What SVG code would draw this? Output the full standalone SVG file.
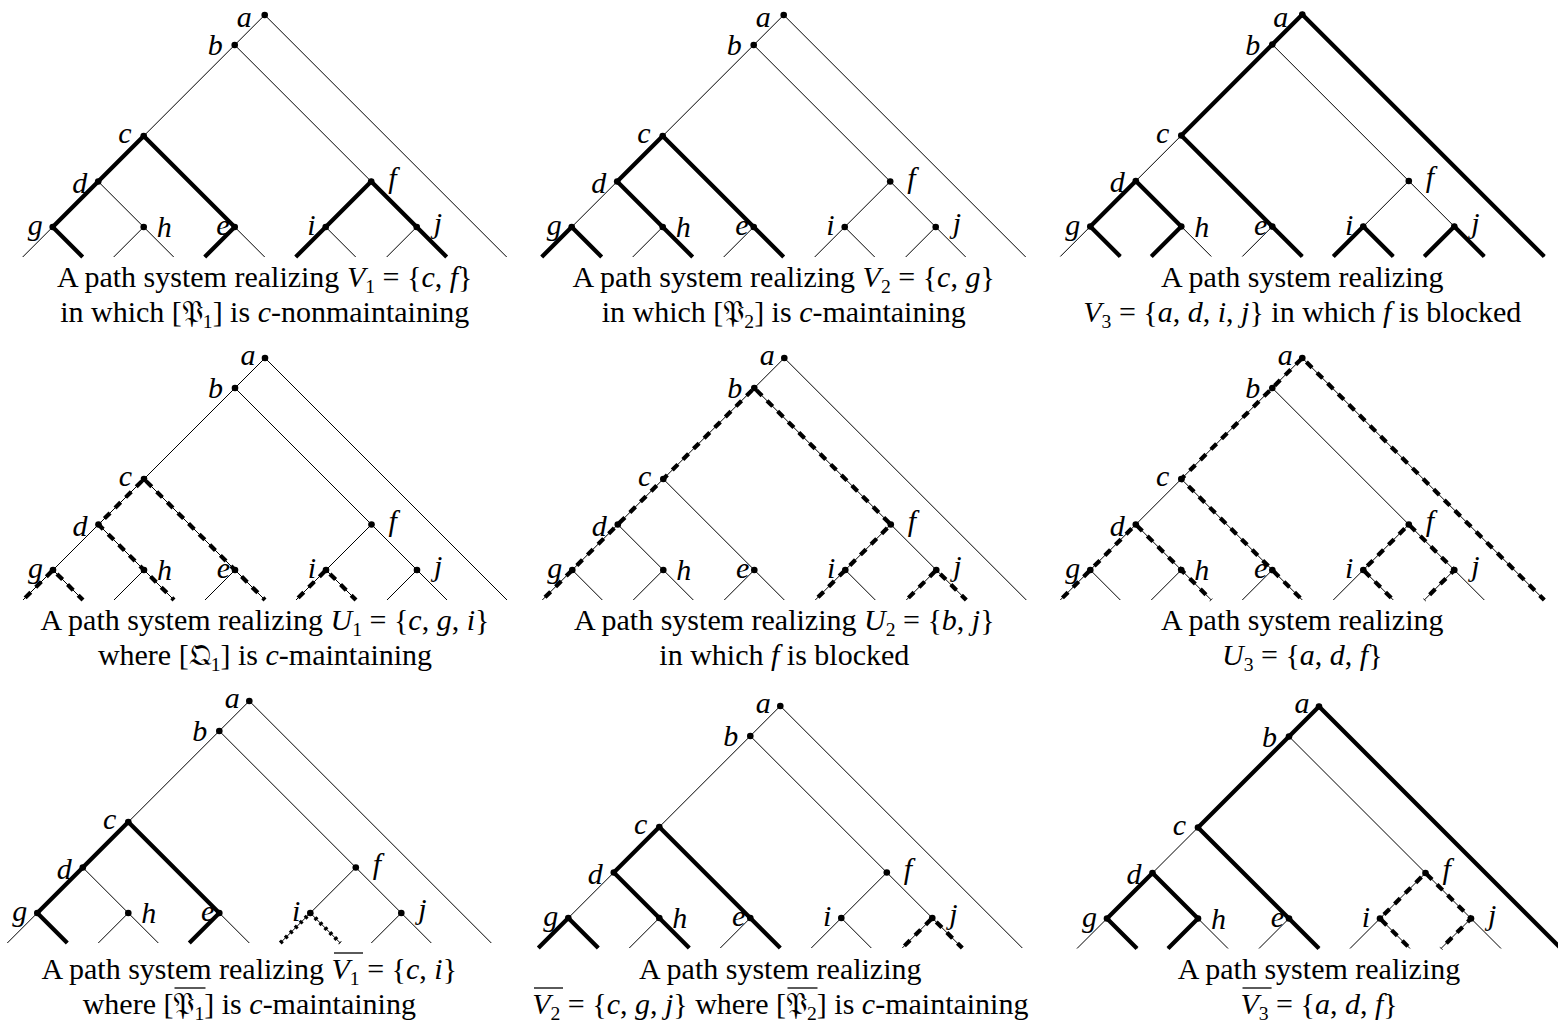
<svg xmlns="http://www.w3.org/2000/svg" xmlns:xlink="http://www.w3.org/1999/xlink" width="1558" height="1026" viewBox="0 0 1558 1026">
<style>
.thin{fill:none;stroke:#000;stroke-width:1}
.thick{fill:none;stroke:#000;stroke-width:4.2;stroke-linejoin:miter}
.dash{fill:none;stroke:#000;stroke-width:4.2;stroke-dasharray:8 7;stroke-dashoffset:-3}
.dot{fill:none;stroke:#000;stroke-width:4;stroke-dasharray:3 4}
.node circle{fill:#000}
.lbl{font-family:"Liberation Serif","DejaVu Serif",serif;font-style:italic;font-size:30px}
.end{text-anchor:end}
.cap{font-family:"Liberation Serif","DejaVu Serif",serif;font-size:30px;text-anchor:middle}
.it{font-style:italic}
.sub{font-size:19.7px}
.frak{font-family:"DejaVu Serif","DejaVu Sans","Noto Sans","Liberation Serif",serif}
.ov{stroke:#000;stroke-width:1.3}
</style>
<defs>
<path id="base" class="thin" d="M0,0L242,242M0,0L-242,242M-30,30L182,242M-121,121L0,242M-166.5,166.5L-91,242M-212,212L-182,242M-121,212L-151,242M-30,212L-60,242M106.5,166.5L31,242M61,212L91,242M152,212L122,242"/>
</defs>

<!-- Panel 1 -->
<g id="panel1" transform="translate(264.7,15)">
<g id="p1-edges"><use xlink:href="#base" href="#base"/>
<path class="thick" d="M-182,242L-212,212L-121,121L-30,212L-60,242"/>
<path class="thick" d="M31,242L106.5,166.5L182,242"/></g>
<g id="p1-a" class="node"><circle r="3.3"/><text class="lbl end" x="-13" y="12">a</text></g>
<g id="p1-b" class="node"><circle cx="-30" cy="30" r="3.3"/><text class="lbl end" x="-42" y="40">b</text></g>
<g id="p1-c" class="node"><circle cx="-121" cy="121" r="3.3"/><text class="lbl end" x="-133" y="128">c</text></g>
<g id="p1-d" class="node"><circle cx="-166.5" cy="166.5" r="3.3"/><text class="lbl end" x="-177.5" y="177.5">d</text></g>
<g id="p1-g" class="node"><circle cx="-212" cy="212" r="3.3"/><text class="lbl end" x="-222" y="220">g</text></g>
<g id="p1-h" class="node"><circle cx="-121" cy="212" r="3.3"/><text class="lbl" x="-108" y="222">h</text></g>
<g id="p1-e" class="node"><circle cx="-30" cy="212" r="3.3"/><text class="lbl end" x="-35" y="220">e</text></g>
<g id="p1-f" class="node"><circle cx="106.5" cy="166.5" r="3.3"/><text class="lbl" x="123.5" y="172.5">f</text></g>
<g id="p1-i" class="node"><circle cx="61" cy="212" r="3.3"/><text class="lbl end" x="51" y="220">i</text></g>
<g id="p1-j" class="node"><circle cx="152" cy="212" r="3.3"/><text class="lbl" x="169" y="218">j</text></g>
</g>
<g id="caption1">
<text class="cap" x="264.7" y="287">A path system realizing <tspan class="it">V</tspan><tspan class="sub" dy="6.2">1</tspan><tspan dy="-6.2"> = {</tspan><tspan class="it">c</tspan>, <tspan class="it">f</tspan>}</text>
<text class="cap" x="264.7" y="322">in which [<tspan class="frak">𝔓</tspan><tspan class="sub" dy="6.2">1</tspan><tspan dy="-6.2">] is </tspan><tspan class="it">c</tspan>-nonmaintaining</text>
</g>

<!-- Panel 2 -->
<g id="panel2" transform="translate(783.7,15)">
<g id="p2-edges"><use xlink:href="#base" href="#base"/>
<path class="thick" d="M-91,242L-166.5,166.5L-121,121L0,242"/>
<path class="thick" d="M-242,242L-212,212L-182,242"/></g>
<g id="p2-a" class="node"><circle r="3.3"/><text class="lbl end" x="-13" y="12">a</text></g>
<g id="p2-b" class="node"><circle cx="-30" cy="30" r="3.3"/><text class="lbl end" x="-42" y="40">b</text></g>
<g id="p2-c" class="node"><circle cx="-121" cy="121" r="3.3"/><text class="lbl end" x="-133" y="128">c</text></g>
<g id="p2-d" class="node"><circle cx="-166.5" cy="166.5" r="3.3"/><text class="lbl end" x="-177.5" y="177.5">d</text></g>
<g id="p2-g" class="node"><circle cx="-212" cy="212" r="3.3"/><text class="lbl end" x="-222" y="220">g</text></g>
<g id="p2-h" class="node"><circle cx="-121" cy="212" r="3.3"/><text class="lbl" x="-108" y="222">h</text></g>
<g id="p2-e" class="node"><circle cx="-30" cy="212" r="3.3"/><text class="lbl end" x="-35" y="220">e</text></g>
<g id="p2-f" class="node"><circle cx="106.5" cy="166.5" r="3.3"/><text class="lbl" x="123.5" y="172.5">f</text></g>
<g id="p2-i" class="node"><circle cx="61" cy="212" r="3.3"/><text class="lbl end" x="51" y="220">i</text></g>
<g id="p2-j" class="node"><circle cx="152" cy="212" r="3.3"/><text class="lbl" x="169" y="218">j</text></g>
</g>
<g id="caption2">
<text class="cap" x="783.7" y="287">A path system realizing <tspan class="it">V</tspan><tspan class="sub" dy="6.2">2</tspan><tspan dy="-6.2"> = {</tspan><tspan class="it">c</tspan>, <tspan class="it">g</tspan>}</text>
<text class="cap" x="783.7" y="322">in which [<tspan class="frak">𝔓</tspan><tspan class="sub" dy="6.2">2</tspan><tspan dy="-6.2">] is </tspan><tspan class="it">c</tspan>-maintaining</text>
</g>

<!-- Panel 3 -->
<g id="panel3" transform="translate(1302.3,14.5)">
<g id="p3-edges"><use xlink:href="#base" href="#base"/>
<path class="thick" d="M0,242L-121,121L0,0L242,242"/>
<path class="thick" d="M-182,242L-212,212L-166.5,166.5L-121,212L-151,242"/>
<path class="thick" d="M31,242L61,212L91,242"/>
<path class="thick" d="M122,242L152,212L182,242"/></g>
<g id="p3-a" class="node"><circle r="3.3"/><text class="lbl end" x="-14" y="12.5">a</text></g>
<g id="p3-b" class="node"><circle cx="-30" cy="30" r="3.3"/><text class="lbl end" x="-42" y="40">b</text></g>
<g id="p3-c" class="node"><circle cx="-121" cy="121" r="3.3"/><text class="lbl end" x="-133" y="128">c</text></g>
<g id="p3-d" class="node"><circle cx="-166.5" cy="166.5" r="3.3"/><text class="lbl end" x="-177.5" y="177.5">d</text></g>
<g id="p3-g" class="node"><circle cx="-212" cy="212" r="3.3"/><text class="lbl end" x="-222" y="220">g</text></g>
<g id="p3-h" class="node"><circle cx="-121" cy="212" r="3.3"/><text class="lbl" x="-108" y="222">h</text></g>
<g id="p3-e" class="node"><circle cx="-30" cy="212" r="3.3"/><text class="lbl end" x="-35" y="220">e</text></g>
<g id="p3-f" class="node"><circle cx="106.5" cy="166.5" r="3.3"/><text class="lbl" x="123.5" y="172.5">f</text></g>
<g id="p3-i" class="node"><circle cx="61" cy="212" r="3.3"/><text class="lbl end" x="51" y="220">i</text></g>
<g id="p3-j" class="node"><circle cx="152" cy="212" r="3.3"/><text class="lbl" x="169" y="218">j</text></g>
</g>
<g id="caption3">
<text class="cap" x="1302.3" y="287">A path system realizing</text>
<text class="cap" x="1302.3" y="322"><tspan class="it">V</tspan><tspan class="sub" dy="6.2">3</tspan><tspan dy="-6.2"> = {</tspan><tspan class="it">a</tspan>, <tspan class="it">d</tspan>, <tspan class="it">i</tspan>, <tspan class="it">j</tspan>} in which <tspan class="it">f</tspan> is blocked</text>
</g>

<!-- Panel 4 -->
<g id="panel4" transform="translate(265,358)">
<g id="p4-edges"><use xlink:href="#base" href="#base"/>
<path class="dash" d="M-121,121L-166.5,166.5L-91,242"/>
<path class="dash" d="M-121,121L0,242"/>
<path class="dash" d="M-242,242L-212,212L-182,242"/>
<path class="dash" d="M31,242L61,212L91,242"/></g>
<g id="p4-a" class="node"><circle r="3.3"/><text class="lbl end" x="-9.5" y="6.5">a</text></g>
<g id="p4-b" class="node"><circle cx="-30" cy="30" r="3.3"/><text class="lbl end" x="-42" y="40">b</text></g>
<g id="p4-c" class="node"><circle cx="-121" cy="121" r="3.3"/><text class="lbl end" x="-133" y="128">c</text></g>
<g id="p4-d" class="node"><circle cx="-166.5" cy="166.5" r="3.3"/><text class="lbl end" x="-177.5" y="177.5">d</text></g>
<g id="p4-g" class="node"><circle cx="-212" cy="212" r="3.3"/><text class="lbl end" x="-222" y="220">g</text></g>
<g id="p4-h" class="node"><circle cx="-121" cy="212" r="3.3"/><text class="lbl" x="-108" y="222">h</text></g>
<g id="p4-e" class="node"><circle cx="-30" cy="212" r="3.3"/><text class="lbl end" x="-35" y="220">e</text></g>
<g id="p4-f" class="node"><circle cx="106.5" cy="166.5" r="3.3"/><text class="lbl" x="123.5" y="172.5">f</text></g>
<g id="p4-i" class="node"><circle cx="61" cy="212" r="3.3"/><text class="lbl end" x="51" y="220">i</text></g>
<g id="p4-j" class="node"><circle cx="152" cy="212" r="3.3"/><text class="lbl" x="169" y="218">j</text></g>
</g>
<g id="caption4">
<text class="cap" x="265" y="629.5">A path system realizing <tspan class="it">U</tspan><tspan class="sub" dy="6.2">1</tspan><tspan dy="-6.2"> = {</tspan><tspan class="it">c</tspan>, <tspan class="it">g</tspan>, <tspan class="it">i</tspan>}</text>
<text class="cap" x="265" y="665">where [<tspan class="frak">𝔔</tspan><tspan class="sub" dy="6.2">1</tspan><tspan dy="-6.2">] is </tspan><tspan class="it">c</tspan>-maintaining</text>
</g>

<!-- Panel 5 -->
<g id="panel5" transform="translate(784.3,358)">
<g id="p5-edges"><use xlink:href="#base" href="#base"/>
<path class="dash" d="M-30,30L-242,242"/>
<path class="dash" d="M-30,30L106.5,166.5L31,242"/>
<path class="dash" d="M122,242L152,212L182,242"/></g>
<g id="p5-a" class="node"><circle r="3.3"/><text class="lbl end" x="-9.5" y="6.5">a</text></g>
<g id="p5-b" class="node"><circle cx="-30" cy="30" r="3.3"/><text class="lbl end" x="-42" y="40">b</text></g>
<g id="p5-c" class="node"><circle cx="-121" cy="121" r="3.3"/><text class="lbl end" x="-133" y="128">c</text></g>
<g id="p5-d" class="node"><circle cx="-166.5" cy="166.5" r="3.3"/><text class="lbl end" x="-177.5" y="177.5">d</text></g>
<g id="p5-g" class="node"><circle cx="-212" cy="212" r="3.3"/><text class="lbl end" x="-222" y="220">g</text></g>
<g id="p5-h" class="node"><circle cx="-121" cy="212" r="3.3"/><text class="lbl" x="-108" y="222">h</text></g>
<g id="p5-e" class="node"><circle cx="-30" cy="212" r="3.3"/><text class="lbl end" x="-35" y="220">e</text></g>
<g id="p5-f" class="node"><circle cx="106.5" cy="166.5" r="3.3"/><text class="lbl" x="123.5" y="172.5">f</text></g>
<g id="p5-i" class="node"><circle cx="61" cy="212" r="3.3"/><text class="lbl end" x="51" y="220">i</text></g>
<g id="p5-j" class="node"><circle cx="152" cy="212" r="3.3"/><text class="lbl" x="169" y="218">j</text></g>
</g>
<g id="caption5">
<text class="cap" x="784.3" y="629.5">A path system realizing <tspan class="it">U</tspan><tspan class="sub" dy="6.2">2</tspan><tspan dy="-6.2"> = {</tspan><tspan class="it">b</tspan>, <tspan class="it">j</tspan>}</text>
<text class="cap" x="784.3" y="665">in which <tspan class="it">f</tspan> is blocked</text>
</g>

<!-- Panel 6 -->
<g id="panel6" transform="translate(1302.3,358)">
<g id="p6-edges"><use xlink:href="#base" href="#base"/>
<path class="dash" d="M0,242L-121,121L0,0L242,242"/>
<path class="dash" d="M-242,242L-166.5,166.5L-91,242"/>
<path class="dash" d="M91,242L61,212L106.5,166.5L152,212L122,242"/></g>
<g id="p6-a" class="node"><circle r="3.3"/><text class="lbl end" x="-9.5" y="6.5">a</text></g>
<g id="p6-b" class="node"><circle cx="-30" cy="30" r="3.3"/><text class="lbl end" x="-42" y="40">b</text></g>
<g id="p6-c" class="node"><circle cx="-121" cy="121" r="3.3"/><text class="lbl end" x="-133" y="128">c</text></g>
<g id="p6-d" class="node"><circle cx="-166.5" cy="166.5" r="3.3"/><text class="lbl end" x="-177.5" y="177.5">d</text></g>
<g id="p6-g" class="node"><circle cx="-212" cy="212" r="3.3"/><text class="lbl end" x="-222" y="220">g</text></g>
<g id="p6-h" class="node"><circle cx="-121" cy="212" r="3.3"/><text class="lbl" x="-108" y="222">h</text></g>
<g id="p6-e" class="node"><circle cx="-30" cy="212" r="3.3"/><text class="lbl end" x="-35" y="220">e</text></g>
<g id="p6-f" class="node"><circle cx="106.5" cy="166.5" r="3.3"/><text class="lbl" x="123.5" y="172.5">f</text></g>
<g id="p6-i" class="node"><circle cx="61" cy="212" r="3.3"/><text class="lbl end" x="51" y="220">i</text></g>
<g id="p6-j" class="node"><circle cx="152" cy="212" r="3.3"/><text class="lbl" x="169" y="218">j</text></g>
</g>
<g id="caption6">
<text class="cap" x="1302.3" y="629.5">A path system realizing</text>
<text class="cap" x="1302.3" y="665"><tspan class="it">U</tspan><tspan class="sub" dy="6.2">3</tspan><tspan dy="-6.2"> = {</tspan><tspan class="it">a</tspan>, <tspan class="it">d</tspan>, <tspan class="it">f</tspan>}</text>
</g>

<!-- Panel 7 -->
<g id="panel7" transform="translate(249.3,701)">
<g id="p7-edges"><use xlink:href="#base" href="#base"/>
<path class="thick" d="M-182,242L-212,212L-121,121L-30,212L-60,242"/>
<path class="dot" d="M31,242L61,212L91,242"/></g>
<g id="p7-a" class="node"><circle r="3.3"/><text class="lbl end" x="-9.5" y="6.5">a</text></g>
<g id="p7-b" class="node"><circle cx="-30" cy="30" r="3.3"/><text class="lbl end" x="-42" y="40">b</text></g>
<g id="p7-c" class="node"><circle cx="-121" cy="121" r="3.3"/><text class="lbl end" x="-133" y="128">c</text></g>
<g id="p7-d" class="node"><circle cx="-166.5" cy="166.5" r="3.3"/><text class="lbl end" x="-177.5" y="177.5">d</text></g>
<g id="p7-g" class="node"><circle cx="-212" cy="212" r="3.3"/><text class="lbl end" x="-222" y="220">g</text></g>
<g id="p7-h" class="node"><circle cx="-121" cy="212" r="3.3"/><text class="lbl" x="-108" y="222">h</text></g>
<g id="p7-e" class="node"><circle cx="-30" cy="212" r="3.3"/><text class="lbl end" x="-35" y="220">e</text></g>
<g id="p7-f" class="node"><circle cx="106.5" cy="166.5" r="3.3"/><text class="lbl" x="123.5" y="172.5">f</text></g>
<g id="p7-i" class="node"><circle cx="61" cy="212" r="3.3"/><text class="lbl end" x="51" y="220">i</text></g>
<g id="p7-j" class="node"><circle cx="152" cy="212" r="3.3"/><text class="lbl" x="169" y="218">j</text></g>
</g>
<g id="caption7">
<text class="cap" x="249.3" y="979">A path system realizing <tspan class="it">V</tspan><tspan class="sub" dy="6.2">1</tspan><tspan dy="-6.2"> = {</tspan><tspan class="it">c</tspan>, <tspan class="it">i</tspan>}</text>
<text class="cap" x="249.3" y="1014">where [<tspan class="frak">𝔓</tspan><tspan class="sub" dy="6.2">1</tspan><tspan dy="-6.2">] is </tspan><tspan class="it">c</tspan>-maintaining</text>
<line class="ov" x1="334" y1="953" x2="363" y2="953"/>
<line class="ov" x1="174.5" y1="988" x2="205.5" y2="988"/>
</g>

<!-- Panel 8 -->
<g id="panel8" transform="translate(780.3,706)">
<g id="p8-edges"><use xlink:href="#base" href="#base"/>
<path class="thick" d="M-91,242L-166.5,166.5L-121,121L0,242"/>
<path class="thick" d="M-242,242L-212,212L-182,242"/>
<path class="dash" d="M122,242L152,212L182,242"/></g>
<g id="p8-a" class="node"><circle r="3.3"/><text class="lbl end" x="-9.5" y="6.5">a</text></g>
<g id="p8-b" class="node"><circle cx="-30" cy="30" r="3.3"/><text class="lbl end" x="-42" y="40">b</text></g>
<g id="p8-c" class="node"><circle cx="-121" cy="121" r="3.3"/><text class="lbl end" x="-133" y="128">c</text></g>
<g id="p8-d" class="node"><circle cx="-166.5" cy="166.5" r="3.3"/><text class="lbl end" x="-177.5" y="177.5">d</text></g>
<g id="p8-g" class="node"><circle cx="-212" cy="212" r="3.3"/><text class="lbl end" x="-222" y="220">g</text></g>
<g id="p8-h" class="node"><circle cx="-121" cy="212" r="3.3"/><text class="lbl" x="-108" y="222">h</text></g>
<g id="p8-e" class="node"><circle cx="-30" cy="212" r="3.3"/><text class="lbl end" x="-35" y="220">e</text></g>
<g id="p8-f" class="node"><circle cx="106.5" cy="166.5" r="3.3"/><text class="lbl" x="123.5" y="172.5">f</text></g>
<g id="p8-i" class="node"><circle cx="61" cy="212" r="3.3"/><text class="lbl end" x="51" y="220">i</text></g>
<g id="p8-j" class="node"><circle cx="152" cy="212" r="3.3"/><text class="lbl" x="169" y="218">j</text></g>
</g>
<g id="caption8">
<text class="cap" x="780.3" y="979">A path system realizing</text>
<text class="cap" x="780.3" y="1014"><tspan class="it">V</tspan><tspan class="sub" dy="6.2">2</tspan><tspan dy="-6.2"> = {</tspan><tspan class="it">c</tspan>, <tspan class="it">g</tspan>, <tspan class="it">j</tspan>} where [<tspan class="frak">𝔓</tspan><tspan class="sub" dy="6.2">2</tspan><tspan dy="-6.2">] is </tspan><tspan class="it">c</tspan>-maintaining</text>
<line class="ov" x1="534" y1="988" x2="563" y2="988"/>
<line class="ov" x1="787.5" y1="988" x2="817.5" y2="988"/>
</g>

<!-- Panel 9 -->
<g id="panel9" transform="translate(1319,706.5)">
<g id="p9-edges"><use xlink:href="#base" href="#base"/>
<path class="thick" d="M0,242L-121,121L0,0L242,242"/>
<path class="thick" d="M-182,242L-212,212L-166.5,166.5L-121,212L-151,242"/>
<path class="dash" d="M91,242L61,212L106.5,166.5L152,212L122,242"/></g>
<g id="p9-a" class="node"><circle r="3.3"/><text class="lbl end" x="-9.5" y="6.5">a</text></g>
<g id="p9-b" class="node"><circle cx="-30" cy="30" r="3.3"/><text class="lbl end" x="-42" y="40">b</text></g>
<g id="p9-c" class="node"><circle cx="-121" cy="121" r="3.3"/><text class="lbl end" x="-133" y="128">c</text></g>
<g id="p9-d" class="node"><circle cx="-166.5" cy="166.5" r="3.3"/><text class="lbl end" x="-177.5" y="177.5">d</text></g>
<g id="p9-g" class="node"><circle cx="-212" cy="212" r="3.3"/><text class="lbl end" x="-222" y="220">g</text></g>
<g id="p9-h" class="node"><circle cx="-121" cy="212" r="3.3"/><text class="lbl" x="-108" y="222">h</text></g>
<g id="p9-e" class="node"><circle cx="-30" cy="212" r="3.3"/><text class="lbl end" x="-35" y="220">e</text></g>
<g id="p9-f" class="node"><circle cx="106.5" cy="166.5" r="3.3"/><text class="lbl" x="123.5" y="172.5">f</text></g>
<g id="p9-i" class="node"><circle cx="61" cy="212" r="3.3"/><text class="lbl end" x="51" y="220">i</text></g>
<g id="p9-j" class="node"><circle cx="152" cy="212" r="3.3"/><text class="lbl" x="169" y="218">j</text></g>
</g>
<g id="caption9">
<text class="cap" x="1319" y="979">A path system realizing</text>
<text class="cap" x="1319" y="1014"><tspan class="it">V</tspan><tspan class="sub" dy="6.2">3</tspan><tspan dy="-6.2"> = {</tspan><tspan class="it">a</tspan>, <tspan class="it">d</tspan>, <tspan class="it">f</tspan>}</text>
<line class="ov" x1="1242.5" y1="988" x2="1271.5" y2="988"/>
</g>
</svg>
